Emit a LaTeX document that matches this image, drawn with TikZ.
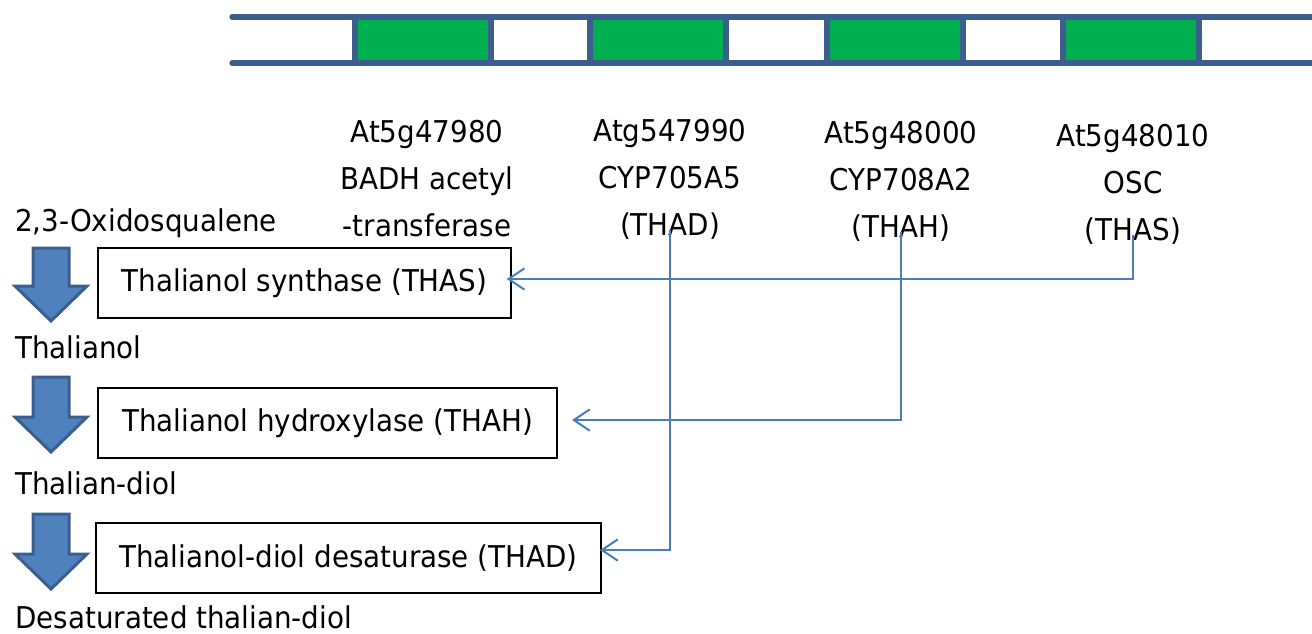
\documentclass[tikz,border=0pt]{standalone}
\usepackage{fontspec}
\setmainfont{DejaVu Sans}[FakeStretch=0.925]
\usetikzlibrary{arrows.meta}
\definecolor{barblue}{HTML}{3B5E8C}
\definecolor{genegreen}{HTML}{00B050}
\definecolor{flowblue}{HTML}{4F81BD}
\definecolor{flowedge}{HTML}{3A5F8E}
\definecolor{linkblue}{HTML}{4A7EBB}
% block arrow: x centre, top, tip
\newcommand{\flowstep}[3]{%
  \filldraw[fill=flowblue, draw=flowedge, line width=2.25pt, line join=miter]
    ({#1-18},#2) -- ({#1+18},#2) -- ({#1+18},{#3-35}) -- ({#1+36},{#3-35})
    -- (#1,#3) -- ({#1-36},{#3-35}) -- ({#1-18},{#3-35}) -- cycle;
}

\begin{document}
\begin{tikzpicture}[x=0.75pt, y=-0.75pt,
  txt/.style={font=\fontsize{22.5}{35.25}\selectfont, inner sep=0pt},
  gene/.style={txt, align=center},
  enzbox/.style={txt, draw=black, line width=1.5pt, minimum height=52pt, anchor=west},
  link/.style={draw=linkblue, line width=1.5pt, -{Straight Barb[length=12pt,width=16pt]}}]
  \useasboundingbox (0,0) rectangle (1312,633);

  % gene cluster bar
  \draw[barblue, line width=4pt, line cap=round] (232,17) -- (1320,17);
  \draw[barblue, line width=4pt, line cap=round] (232,63) -- (1320,63);
  \foreach \x in {355,590,827,1063}
    \draw[barblue, line width=4pt, fill=genegreen] (\x,17) rectangle ++(136,46);

  % gene labels
  \node[gene] (badh) at (427,179) {At5g47980\\BADH acetyl\\-transferase};
  \node[gene] (thad) at (670,179) {Atg547990\\CYP705A5\\(THAD)};
  \node[gene] (thah) at (901,181) {At5g48000\\CYP708A2\\(THAH)};
  \node[gene] (thas) at (1133,184) {At5g48010\\OSC\\(THAS)};

  % pathway
  \node[txt, anchor=base west] (oxs) at (15,231) {2,3-Oxidosqualene};
  \flowstep{51}{248}{321}
  \node[enzbox, minimum width=309.75pt] (synth) at (97,283) {Thalianol synthase (THAS)};
  \node[txt, anchor=base west] (thal) at (15,358) {Thalianol};
  \flowstep{51}{377}{452}
  \node[enzbox, minimum width=344.25pt] (hydro) at (97,423) {Thalianol hydroxylase (THAH)};
  \node[txt, anchor=base west] (diol) at (15,494) {Thalian-diol};
  \flowstep{51}{514}{589}
  \node[enzbox, minimum width=378.75pt] (desat) at (95,558) {Thalianol-diol desaturase (THAD)};
  \node[txt, anchor=base west] (dsdiol) at (15,628) {Desaturated thalian-diol};

  % gene to enzyme links
  \draw[link] ([yshift=7pt]thas.south) |- ([xshift=-4pt,yshift=3pt]synth.east);
  \draw[link] ([yshift=7pt]thah.south) |- ([xshift=10.5pt,yshift=2.25pt]hydro.east);
  \draw[link] ([yshift=7pt]thad.south) |- ([xshift=-1.5pt,yshift=6pt]desat.east);
\end{tikzpicture}
\end{document}
